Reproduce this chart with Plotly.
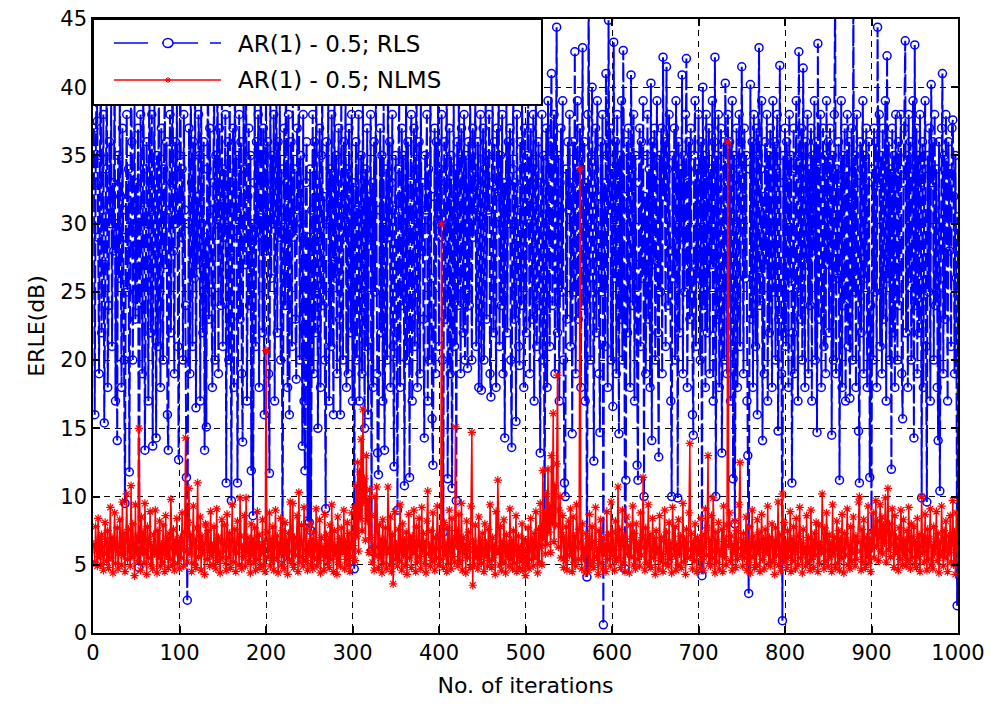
import plotly.graph_objects as go

# ---------------- data ----------------
x_ticks = [0, 100, 200, 300, 400, 500, 600, 700, 800, 900, 1000]
y_ticks = [0, 5, 10, 15, 20, 25, 30, 35, 40, 45]
series_names = ["AR(1) - 0.5; RLS", "AR(1) - 0.5; NLMS"]

rls_erle = [
    37, 16, 33, 41, 37.5, 29, 19, 35, 40, 22, 31, 38, 15.4, 27, 34, 42, 18, 24, 36, 30,
    39, 21, 33, 28, 44, 17, 30, 14.1, 35, 26, 40, 32, 18, 37, 29, 20, 9.5, 31, 38, 25,
    34, 11.8, 28, 41, 36, 20, 30, 39, 23, 33,
    24, 37, 4.8, 29, 38, 31, 19, 40, 34, 13.4, 27, 36, 30, 17, 42, 33, 22, 38, 13.7, 31,
    39, 28, 14.3, 35, 21, 41, 32, 18, 37, 29, 20, 34, 40, 27, 36, 16, 13.4, 31, 38, 22,
    33, 43, 28, 19, 36, 30, 39, 21, 12.7, 35,
    41, 29, 34, 20, 38, 31, 24, 11.4, 2.4, 30, 37, 19, 40, 33, 21, 36, 26, 42, 16.5, 32,
    27, 38, 35, 17, 39, 30, 22, 36, 13.4, 29, 15.1, 34, 41, 23, 37, 31, 25, 18, 33, 40,
    20, 35, 30, 43, 19, 37, 32, 24, 39, 21,
    34, 29, 38, 11, 31, 36, 20, 40, 28, 9.7, 33, 37, 18, 42, 30, 35, 11, 29, 38, 23,
    36, 19, 14, 39, 27, 34, 41, 17, 32, 37, 24, 35, 11.9, 30, 8.6, 33, 40, 21, 36, 29,
    38, 18, 34, 42, 31, 22, 37, 16, 33, 39,
    28, 36, 19, 11.7, 40, 26, 35, 30, 38, 17, 33, 41, 22, 36, 29, 39, 20, 34, 5.5, 31,
    37, 24, 42, 33, 18, 38, 16, 30, 36, 21, 40, 29, 34, 23, 18.6, 37, 31, 43, 20, 35,
    30, 13.7, 38, 17, 11.9, 33, 36, 8.2, 29, 8.1,
    34, 7.5, 31, 38, 19, 36, 22, 40, 33, 15, 29, 37, 18, 35, 41, 24, 32, 20, 9.1, 36,
    30, 39, 17, 34, 21, 38, 27, 16, 42, 26, 35, 19, 31, 37, 23, 16, 39, 32, 20, 36,
    29, 40, 18, 34, 19, 37, 30, 22, 38, 17,
    33, 4.7, 28, 36, 20, 31, 38, 17, 27, 35, 19, 39, 30, 15, 34, 21, 37, 16, 32, 29,
    38, 6, 33, 18, 36, 25, 40, 19, 13.2, 11.6, 31, 37, 22, 35, 17, 39, 13.4, 30, 34, 20,
    41, 29, 36, 18, 33, 38, 21, 12.2, 31, 35,
    22, 9, 34, 39, 18, 32, 37, 24, 35, 10.8, 30, 40, 20, 36, 29, 11.4, 33, 38, 17, 31,
    37, 21, 34, 42, 18, 30, 36, 19, 39, 28, 33, 23, 14.3, 35, 31, 38, 17, 34, 20, 41,
    26, 15.7, 12.3, 32, 37, 19, 36, 30, 39, 21,
    34, 29, 38, 20, 7.4, 36, 23, 33, 40, 11.3, 30, 37, 19, 35, 10.6, 32, 39, 21, 34, 9.7,
    36, 24, 41, 31, 19, 37, 33, 22, 38, 20, 35, 30, 19.4, 36, 24, 40, 32, 20, 37, 29,
    34, 39, 21, 31, 36, 18, 33, 38, 17.8, 30,
    37, 20, 34, 40, 23, 35, 31, 38, 19, 17.3, 33, 39, 22, 36, 30, 18, 37, 32, 41, 21,
    35, 24, 38, 19, 33, 14.3, 31, 39, 22, 36, 30, 37, 20, 13.6, 34, 40, 23, 33, 15.5, 38,
    31, 21, 19.6, 36, 24, 39, 34, 18, 37, 32,
    22, 35, 40, 30, 19, 37, 33, 23, 38, 17, 34, 39, 21, 31, 36, 24, 13.2, 33, 38, 20,
    35, 7.5, 30, 37, 18, 39, 32, 21, 36, 41, 24, 34, 38, 19, 31, 44.4, 22, 35, 17, 33,
    37, 25, 39, 20, 11, 10, 34, 23, 36, 31,
    38, 21, 33, 14.6, 36, 25, 42.6, 19, 35, 39, 23, 34, 37, 18, 32, 42.9, 24, 36, 17, 33,
    4.1, 38, 48, 26, 20, 35, 40, 27, 12.6, 34, 37, 22, 39, 32, 19, 14.7, 36, 25, 38, 0.6,
    33, 21, 41, 35, 18, 44.9, 31, 37, 20, 34,
    16.6, 43.3, 26, 36, 19, 38, 33, 14.6, 35, 23, 39, 20, 42.7, 32, 4.7, 11.2, 36, 22, 37, 31,
    18, 40.9, 34, 24, 38, 17, 35, 27, 12.3, 11.2, 33, 37, 21, 36, 26, 39, 10, 32, 19, 35,
    38, 23, 34, 18, 40.3, 14.1, 36, 27, 37, 20,
    33, 39, 22, 12.9, 35, 25, 37, 19, 42.2, 32, 36, 21, 41.5, 34, 24, 38, 28, 17, 10, 35,
    26, 37, 20, 39, 33, 9.9, 36, 22, 34, 29, 40.9, 19, 35, 25, 38, 42.1, 18, 33, 36, 23,
    37, 27, 16, 14.5, 35, 39, 21, 34, 26, 38,
    32, 20, 36, 4.2, 40, 24, 35, 18, 38, 22, 33, 37, 19, 34, 27, 39, 17, 36, 42.2, 10,
    35, 23, 38, 18, 33, 37, 13.2, 26, 36, 20, 40.3, 34, 19, 38, 25, 36, 17, 33, 39, 11.3,
    35, 8, 24, 37, 18, 34, 38, 21, 36, 41.5,
    32, 19, 37, 26, 35, 17, 13, 2.9, 34, 40.2, 23, 36, 18, 38, 29, 21, 37, 16, 35, 42.9,
    24, 34, 39, 14.1, 32, 19, 36, 27, 38, 17, 35, 22, 37, 30, 18, 39, 25, 36, 20, 34,
    38, 14.8, 23, 41.6, 33, 19, 0.9, 35, 22, 37,
    21, 36, 33, 18, 38, 26, 35, 11, 22, 37, 19, 34, 39, 25, 17, 42.6, 35, 23, 37, 20,
    41.4, 33, 18, 36, 27, 38, 19, 34, 24, 37, 17, 35, 28, 39, 20, 36, 14.7, 43.2, 23, 34,
    38, 18, 33, 37, 21, 35, 19, 39, 27, 36,
    22, 37, 33, 14.5, 35, 20, 38, 47, 19, 34, 26, 36, 11.2, 33, 39, 18, 35, 24, 37, 17,
    34, 38, 21, 36, 17.2, 32, 37, 20, 47, 25, 35, 18, 38, 33, 14.8, 11, 36, 22, 34, 39,
    19, 35, 26, 37, 18, 33, 36, 11.4, 24, 7.3,
    34, 20, 37, 25, 36, 18, 44.4, 33, 38, 21, 35, 19, 37, 23, 33, 39, 17, 42.3, 26, 36,
    20, 34, 12, 37, 22, 35, 18, 38, 32, 20, 36, 24, 34, 38, 19, 15.7, 33, 37, 43.4, 22,
    35, 18, 38, 26, 36, 20, 34, 39, 14.3, 43.1,
    24, 37, 19, 35, 22, 38, 33, 9.9, 36, 18, 34, 39, 21, 9.6, 35, 25, 37, 17, 40.2, 33,
    36, 20, 38, 24, 34, 18, 14.1, 36, 10.4, 26, 37, 41, 19, 35, 23, 38, 33, 17, 36, 28,
    34, 21, 37, 37.6, 32, 19, 35, 26, 2, 30.5,
]

nlms_erle = [
    6.5, 5.2, 7.8, 6.1, 4.9, 8.4, 5.6, 6.9, 5.0, 7.2, 6.3, 4.6, 5.8, 8.1, 6.7, 5.3, 7.5, 4.8, 6.0, 9.2,
    5.5, 7.0, 4.4, 6.6, 8.8, 5.1, 6.2, 7.7, 4.7, 5.9, 8.3, 6.4, 5.0, 9.6, 5.7, 7.3, 4.5, 6.8, 10.2, 5.4,
    7.6, 6.0, 4.9, 10.8, 5.6, 8.0, 6.3, 4.2, 9.4, 5.8,
    7.1, 5.3, 15.0, 6.2, 4.6, 8.5, 5.9, 7.4, 5.1, 9.5, 6.0, 4.3, 7.8, 5.5, 6.7, 8.9, 5.0, 6.4, 4.7, 7.2,
    5.8, 9.0, 6.1, 4.4, 7.5, 5.6, 8.2, 4.9, 6.5, 5.2, 7.9, 6.0, 4.5, 8.6, 5.7, 6.9, 4.8, 7.3, 5.4, 9.8,
    6.3, 5.0, 7.6, 4.6, 6.8, 5.9, 8.4, 5.1, 6.6, 4.7,
    7.0, 5.5, 8.8, 6.2, 4.9, 7.4, 14.3, 6.0, 5.2, 8.1, 10.6, 5.8, 7.2, 4.5, 6.5, 9.3, 5.1, 6.9, 4.8, 7.7,
    11.0, 5.6, 6.3, 8.5, 4.6, 7.1, 5.9, 6.6, 4.3, 8.0, 7.9, 5.4, 7.5, 6.1, 4.9, 8.9, 5.7, 6.4, 5.0, 7.8,
    6.2, 4.7, 9.1, 5.3, 7.0, 5.8, 4.4, 6.7, 8.3, 5.5,
    6.0, 7.9, 5.1, 4.6, 8.7, 6.4, 5.5, 7.3, 4.8, 6.8, 9.4, 5.2, 6.1, 7.6, 4.5, 5.9, 8.2, 6.5, 5.0, 9.9,
    7.1, 4.7, 6.3, 5.6, 8.6, 4.9, 9.9, 5.8, 7.0, 5.3, 6.6, 4.4, 8.0, 5.7, 6.9, 5.1, 7.7, 4.6, 6.2, 8.9,
    5.4, 7.2, 4.8, 6.4, 5.9, 8.3, 5.0, 6.7, 4.5, 20.7,
    7.4, 5.6, 6.1, 8.8, 4.9, 6.9, 5.3, 7.8, 4.6, 6.3, 9.0, 5.5, 7.1, 4.4, 6.6, 5.8, 8.4, 5.0, 7.5, 6.2,
    4.7, 8.1, 5.9, 6.8, 4.3, 7.3, 5.4, 9.6, 6.0, 5.1, 9.5, 4.8, 7.0, 5.7, 6.4, 8.6, 4.5, 10.3, 5.2, 6.7,
    7.9, 5.6, 4.9, 9.2, 6.1, 5.3, 7.6, 4.6, 6.5, 5.8,
    8.0, 5.0, 6.9, 4.7, 7.4, 5.5, 6.2, 9.1, 4.9, 6.6, 5.3, 8.3, 4.4, 7.0, 5.8, 6.3, 4.6, 8.7, 5.6, 7.2,
    5.1, 6.8, 4.8, 7.9, 5.4, 9.4, 6.0, 4.5, 7.5, 5.7, 6.4, 4.3, 8.5, 5.2, 6.9, 4.9, 7.7, 5.9, 6.1, 9.0,
    4.7, 6.7, 5.4, 8.1, 5.0, 7.3, 4.5, 6.2, 8.8, 5.6,
    6.4, 9.2, 5.3, 10.8, 7.1, 12.5, 6.0, 11.8, 8.4, 14.2, 7.5, 16.4, 9.6, 11.3, 6.8, 13.0, 8.2, 9.8, 5.9, 10.5,
    7.0, 8.6, 5.2, 6.4, 4.6, 10.0, 5.7, 10.7, 6.3, 4.8, 7.9, 5.5, 6.9, 4.4, 8.3, 5.1, 6.6, 7.7, 4.7, 5.9,
    10.7, 6.2, 5.0, 8.5, 4.5, 7.2, 3.6, 6.0, 8.9, 5.4,
    6.5, 4.9, 7.6, 5.3, 9.4, 6.1, 4.6, 8.0, 5.7, 6.8, 5.0, 7.4, 4.3, 6.2, 8.7, 5.5, 6.9, 4.8, 7.1, 5.9,
    9.0, 6.3, 4.5, 7.8, 5.2, 6.6, 8.4, 5.6, 4.7, 9.2, 6.0, 7.3, 5.1, 6.7, 4.4, 8.2, 10.4, 5.8, 6.4, 4.9,
    7.5, 5.3, 8.8, 6.1, 4.6, 7.0, 5.5, 9.3, 6.2, 5.0,
    7.2, 5.4, 30.0, 6.3, 4.8, 8.1, 5.7, 6.6, 4.5, 7.7, 5.1, 9.0, 6.0, 4.7, 8.4, 5.6, 6.9, 5.2, 15.1, 6.4,
    7.5, 4.9, 8.7, 5.3, 6.2, 9.5, 4.6, 7.0, 5.8, 6.5, 4.4, 8.2, 5.5, 7.4, 6.1, 4.8, 9.3, 14.7, 3.5, 6.7,
    5.0, 7.9, 5.6, 6.3, 4.7, 8.5, 5.4, 6.8, 5.1, 7.3,
    6.0, 4.5, 8.0, 5.7, 6.6, 4.9, 7.6, 5.3, 9.4, 6.2, 4.8, 7.0, 5.5, 6.4, 4.3, 8.9, 5.9, 11.2, 6.1, 5.0,
    7.8, 4.6, 6.7, 5.2, 8.3, 6.0, 4.4, 7.2, 5.6, 6.5, 4.9, 9.1, 5.4, 6.8, 4.7, 7.5, 5.1, 6.2, 8.6, 4.5,
    5.8, 7.1, 4.8, 6.3, 5.3, 8.0, 4.6, 6.9, 5.5, 4.2,
    6.6, 5.0, 7.7, 4.7, 6.1, 8.4, 5.4, 6.8, 4.9, 7.3, 5.6, 8.9, 6.2, 4.4, 7.6, 5.2, 9.5, 6.4, 5.0, 11.9,
    7.0, 8.8, 5.8, 10.2, 6.5, 12.0, 7.4, 9.3, 5.9, 13.0, 8.1, 16.1, 6.7, 10.8, 7.9, 12.4, 18.9, 6.3, 9.0, 10.0,
    5.5, 7.2, 8.6, 4.8, 6.9, 5.3, 7.8, 4.6, 6.4, 8.2,
    5.7, 9.1, 6.0, 4.5, 8.5, 5.2, 7.1, 4.9, 9.4, 6.3, 5.4, 7.6, 34.0, 6.6, 4.7, 8.0, 5.5, 6.2, 4.4, 7.3,
    5.8, 6.9, 4.6, 8.7, 5.0, 6.4, 7.8, 5.3, 4.8, 6.7, 9.2, 5.6, 6.1, 4.3, 7.5, 5.1, 8.3, 6.0, 4.7, 7.0,
    5.9, 6.5, 4.5, 8.9, 5.4, 7.2, 6.3, 4.9, 9.6, 5.7,
    7.4, 6.1, 4.6, 8.2, 5.3, 6.8, 10.7, 5.5, 7.6, 4.8, 6.4, 9.0, 5.2, 7.1, 4.5, 6.7, 8.5, 5.8, 6.2, 4.4,
    7.9, 5.6, 6.9, 9.3, 5.0, 7.3, 4.7, 8.0, 6.1, 5.4, 6.6, 4.9, 8.8, 5.7, 7.0, 11.4, 6.3, 4.6, 7.7, 5.2,
    6.5, 9.4, 5.0, 7.2, 4.8, 6.0, 8.4, 5.5, 6.9, 4.3,
    7.5, 5.9, 6.3, 4.7, 8.6, 5.3, 7.0, 5.6, 4.5, 6.8, 9.0, 5.1, 7.4, 6.0, 4.9, 8.1, 5.4, 6.6, 4.4, 9.2,
    6.2, 5.7, 7.8, 4.6, 6.5, 5.0, 8.3, 5.8, 7.1, 4.8, 6.4, 9.5, 5.2, 6.9, 4.3, 7.6, 5.5, 6.1, 8.8, 13.9,
    5.6, 7.3, 4.7, 6.7, 5.3, 8.0, 6.2, 4.5, 7.0, 5.9,
    6.6, 4.8, 8.4, 5.4, 7.2, 4.6, 6.3, 9.1, 5.7, 7.7, 13.0, 5.1, 6.8, 4.9, 8.6, 5.5, 9.9, 6.0, 4.4, 7.4,
    5.2, 6.7, 8.1, 4.7, 6.1, 5.8, 7.6, 4.5, 9.3, 5.6, 6.9, 5.0, 7.9, 36.0, 6.4, 8.8, 5.3, 7.1, 4.6, 6.5,
    5.9, 8.2, 4.8, 7.5, 5.4, 6.2, 9.4, 12.5, 5.7, 6.8,
    4.9, 7.3, 5.5, 6.0, 8.5, 4.6, 6.7, 5.2, 7.8, 4.4, 6.3, 9.0, 5.6, 7.1, 4.8, 6.6, 5.0, 8.3, 5.9, 7.4,
    4.5, 6.2, 8.7, 5.4, 6.9, 4.7, 7.6, 5.8, 6.1, 9.3, 5.1, 7.0, 4.9, 6.5, 8.0, 5.3, 6.8, 4.3, 7.7, 5.7,
    6.4, 9.6, 5.0, 7.2, 4.6, 6.0, 10.2, 5.5, 8.1, 5.2,
    6.7, 4.8, 7.5, 5.6, 6.2, 8.9, 4.5, 6.9, 5.3, 7.8, 5.9, 4.7, 8.4, 6.1, 5.0, 7.1, 9.2, 5.5, 6.6, 4.4,
    7.6, 5.8, 6.3, 4.9, 8.6, 5.2, 7.0, 6.0, 4.6, 9.0, 5.4, 6.8, 4.8, 7.3, 5.7, 8.1, 6.4, 4.5, 7.9, 5.1,
    6.5, 5.9, 10.2, 6.2, 4.7, 7.7, 5.3, 8.8, 6.0, 4.9,
    7.2, 5.6, 6.6, 4.5, 9.4, 5.8, 7.0, 4.8, 6.3, 8.2, 5.1, 7.5, 4.6, 6.9, 5.5, 8.7, 6.1, 4.4, 7.3, 5.7,
    6.8, 9.1, 5.0, 6.4, 4.7, 7.8, 5.3, 6.2, 8.5, 5.9, 4.9, 7.1, 5.4, 6.7, 9.6, 10.0, 6.0, 4.6, 7.6, 5.2,
    8.3, 6.5, 4.8, 7.0, 5.6, 9.3, 5.1, 6.9, 4.5, 7.4,
    6.2, 8.8, 5.5, 7.6, 9.7, 6.4, 8.2, 5.3, 7.1, 9.4, 6.0, 8.5, 5.8, 7.9, 6.6, 9.9, 5.2, 7.4, 10.6, 6.1,
    8.0, 5.6, 7.3, 9.1, 6.5, 4.8, 8.6, 5.9, 7.0, 6.3, 4.6, 7.7, 5.4, 9.0, 6.2, 5.0, 8.3, 5.7, 6.8, 4.9,
    7.5, 5.3, 9.2, 6.1, 4.7, 8.0, 5.5, 6.9, 7.8, 5.1,
    6.6, 4.8, 8.4, 5.6, 7.2, 4.5, 6.3, 10.0, 5.9, 7.0, 5.2, 8.7, 6.0, 4.6, 7.6, 5.4, 6.9, 9.1, 5.0, 6.4,
    4.7, 7.8, 5.8, 6.2, 8.9, 5.3, 7.3, 4.4, 6.7, 5.7, 9.3, 6.0, 4.9, 7.5, 5.5, 8.2, 6.3, 4.5, 7.1, 5.9,
    8.6, 5.2, 6.6, 9.7, 5.0, 7.4, 4.3, 8.8, 6.1, 5.4,
]

assert len(rls_erle) == 1000, len(rls_erle)
assert len(nlms_erle) == 1000, len(nlms_erle)
iterations = list(range(1, len(rls_erle) + 1))

# ---------------- style ----------------
BLUE = "#0000FF"
RED = "#FF0000"
FONT = "DejaVu Sans"
W, H = 991, 707
L, R, T, B = 93, 958, 19, 633   # plot area in pixels


def px(xp):
    return (xp - L) / (R - L)


def py(yp):
    return (B - yp) / (B - T)


fig = go.Figure()
fig.add_trace(go.Scatter(
    x=iterations, y=rls_erle, mode="lines+markers", name=series_names[0],
    line=dict(color=BLUE, width=2, dash="18px,4px"),
    marker=dict(symbol="circle-open", size=8, color=BLUE, line=dict(width=1.5, color=BLUE)),
    showlegend=False,
))
fig.add_trace(go.Scatter(
    x=iterations, y=nlms_erle, mode="lines+markers", name=series_names[1],
    line=dict(color=RED, width=1.5),
    marker=dict(symbol="asterisk-open", size=7, color=RED, line=dict(width=1.2, color=RED)),
    showlegend=False,
))

axis_common = dict(
    showline=True, linecolor="black", linewidth=1.5, mirror="allticks",
    ticks="inside", ticklen=7, tickcolor="black", tickwidth=1.5,
    showgrid=True, gridcolor="black", gridwidth=1.2, griddash="6px,5px",
    zeroline=False, automargin=False,
    tickfont=dict(family=FONT, size=21, color="black"),
)
fig.update_xaxes(range=[0, 1000], tickvals=x_ticks, ticktext=[str(v) for v in x_ticks],
                 title=dict(text="No. of iterations", font=dict(family=FONT, size=22, color="black"),
                            standoff=14),
                 **axis_common)
fig.update_yaxes(range=[0, 45], tickvals=y_ticks, ticktext=[str(v) for v in y_ticks],
                 title=dict(text="ERLE(dB)", font=dict(family=FONT, size=22, color="black"),
                            standoff=10),
                 **axis_common)

# ---------------- hand-drawn legend box (MATLAB style) ----------------
shapes = [
    dict(type="rect", xref="paper", yref="paper", x0=px(93), x1=px(542), y0=py(105), y1=py(19),
         line=dict(color="black", width=2), fillcolor="white", layer="above"),
]
for a, b in [(114, 148), (162, 198), (210, 221)]:
    shapes.append(dict(type="line", xref="paper", yref="paper", x0=px(a), x1=px(b), y0=py(43), y1=py(43),
                       line=dict(color=BLUE, width=1.5), layer="above"))
shapes.append(dict(type="circle", xref="paper", yref="paper", x0=px(163), x1=px(173), y0=py(47.5), y1=py(38.5),
                   line=dict(color=BLUE, width=1.5), fillcolor="white", layer="above"))
shapes.append(dict(type="line", xref="paper", yref="paper", x0=px(114), x1=px(221), y0=py(80), y1=py(80),
                   line=dict(color=RED, width=1.5), layer="above"))
for (xa, ya, xb, yb) in [(168, 77, 168, 83), (165, 80, 171, 80), (166, 78, 170, 82), (166, 82, 170, 78)]:
    shapes.append(dict(type="line", xref="paper", yref="paper", x0=px(xa), x1=px(xb), y0=py(ya), y1=py(yb),
                       line=dict(color=RED, width=1), layer="above"))

annotations = [
    dict(text=series_names[0], xref="paper", yref="paper", x=px(236), y=py(44), xanchor="left",
         yanchor="middle", showarrow=False, font=dict(family=FONT, size=23, color="black")),
    dict(text=series_names[1], xref="paper", yref="paper", x=px(236), y=py(80), xanchor="left",
         yanchor="middle", showarrow=False, font=dict(family=FONT, size=23, color="black")),
]

fig.update_layout(
    width=W, height=H,
    margin=dict(l=L, r=W - R, t=T, b=H - B, pad=0, autoexpand=False),
    paper_bgcolor="white", plot_bgcolor="white",
    shapes=shapes, annotations=annotations,
    showlegend=False,
    font=dict(family=FONT, color="black"),
)

fig.write_html("out.html")
